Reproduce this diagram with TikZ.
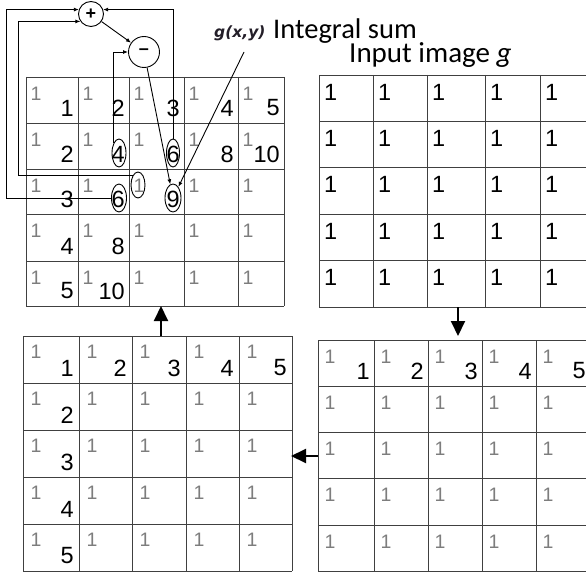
\documentclass[tikz,border=0pt]{standalone}
\usepackage{fontspec}
\setmainfont{Liberation Sans}
\newfontfamily\calfont{Carlito}
\newfontfamily\djfont{DejaVu Sans}
\usetikzlibrary{arrows.meta,shapes.geometric}
\definecolor{onegray}{RGB}{125,125,125}
\definecolor{labelink}{RGB}{35,30,40}

\begin{document}
\begin{tikzpicture}[x=1pt,y=-1pt,>=Latex,
gridline/.style={black!75,line width=0.9pt},
small/.style={text=onegray,font=\fontsize{19.5}{19.5}\selectfont,inner sep=0pt},
big/.style={font=\fontsize{23.5}{23.5}\selectfont,inner sep=0pt},
ring/.style={draw,ellipse,line width=0.9pt,inner sep=0pt},
op/.style={draw,circle,line width=0.9pt,inner sep=0pt,font=\bfseries\fontsize{18}{18}\selectfont},
ptr/.style={line width=0.9pt,-{Latex[length=5pt,width=4pt]}},
flow/.style={line width=2pt,-{Triangle[length=15pt,width=14pt]}}]
\useasboundingbox (0,0) rectangle (586,572);
\clip (0,0) rectangle (586,572);
% integral sum, top left
\foreach \x in {26,78,129,184,238,284} \draw[gridline] (\x,77) -- (\x,306);
\foreach \y in {77,123,169,214,261,306} \draw[gridline] (26,\y) -- (284,\y);
\foreach \x in {26,78,129,184,238} \foreach \y in {77,123,169,214,261}
  \node[small] at (\x+10,\y+17) {1};
\foreach \x/\y/\v in {78/123/1,129/123/2,184/123/3,238/123/4,284/123/5,
  78/169/2,129/169/4,184/169/6,238/169/8,284/169/10,
  78/214/3,129/214/6,184/214/9,78/261/4,129/261/8,78/306/5,129/306/10}
  \node[big,anchor=east] at (\x-4,\y-15) {\v};
% input image g, top right
\foreach \x in {319,373,427,485,540,595} \draw[gridline] (\x,75) -- (\x,307);
\foreach \y in {75,121,167,214,260,307} \draw[gridline] (319,\y) -- (600,\y);
\foreach \x in {319,373,427,485,540} \foreach \y in {75,121,167,214,260}
  \node[big,anchor=west] at (\x+5,\y+17) {1};
% row sums, bottom right
\foreach \x in {318,374,428,482,536,590} \draw[gridline] (\x,340) -- (\x,571);
\foreach \y in {340,386,432,478,525,571} \draw[gridline] (318,\y) -- (600,\y);
\foreach \x in {318,374,428,482,536} \foreach \y in {340,386,432,478,525}
  \node[small] at (\x+12,\y+17) {1};
\foreach \x/\v in {374/1,428/2,482/3,536/4,590/5}
  \node[big,anchor=east] at (\x-4,371) {\v};
% column sums, bottom left
\foreach \x in {23,79,132,186,239,292} \draw[gridline] (\x,336) -- (\x,571);
\foreach \y in {336,383,430,477,524,571} \draw[gridline] (23,\y) -- (292,\y);
\foreach \x in {23,79,132,186,239} \foreach \y in {336,383,430,477,524}
  \node[small] at (\x+13,\y+16) {1};
\foreach \x/\y/\v in {79/383/1,132/383/2,186/383/3,239/383/4,292/383/5,
  79/430/2,79/477/3,79/524/4,79/571/5}
  \node[big,anchor=east] at (\x-5,\y-15) {\v};
% marked cells
\node[ring,minimum width=14,minimum height=28] (c24) at (119,153) {};
\node[ring,minimum width=13,minimum height=28] (c23) at (173,153) {};
\node[ring,minimum width=14,minimum height=26] (c31) at (138,185) {};
\node[ring,minimum width=15,minimum height=28] (c32) at (119,198) {};
\node[ring,minimum width=16,minimum height=28] (c33) at (173,198) {};
\node[op,minimum size=25] (plus) at (91,14) {+};
\node[op,minimum size=31] (minus) at (144,52) {--};
\draw[ptr] (c32.west) -- ++(-105,0) |- (plus.160);
\draw[ptr] (c31.north west) -- ++(-114,0) |- (plus.215);
\draw[ptr] (c23.north) |- (plus.20);
\draw[ptr] (plus) -- (minus);
\draw[ptr] (c24.north west) |- (minus.west);
\draw[ptr] (minus) -- (c33);
% labels
\node[anchor=base west,inner sep=0pt,text=labelink,
  font=\djfont\bfseries\itshape\fontsize{15.5}{15.5}\selectfont] (gxy) at (214,38) {g(x,y)};
\node[anchor=base west,inner sep=0pt,font=\calfont\fontsize{28.5}{28.5}\selectfont]
  (isum) at (273,39) {Integral sum};
\node[anchor=base west,inner sep=0pt,font=\calfont\fontsize{29}{29}\selectfont]
  (inimg) at (349,63) {Input image \textit{g}};
\coordinate (gxy-tail) at (244,52);
\draw[ptr] (gxy-tail) -- (c33);
% steps between the tables
\coordinate (tl-s) at (161,306);
\coordinate (bl-n) at (161,336);
\coordinate (tr-s) at (458,307);
\coordinate (br-n) at (458,336);
\coordinate (br-w) at (318,456);
\coordinate (bl-e) at (291,456);
\draw[flow] (bl-n) -- (tl-s);
\draw[flow] (tr-s) -- (br-n);
\draw[flow] (br-w) -- (bl-e);
\end{tikzpicture}
\end{document}
